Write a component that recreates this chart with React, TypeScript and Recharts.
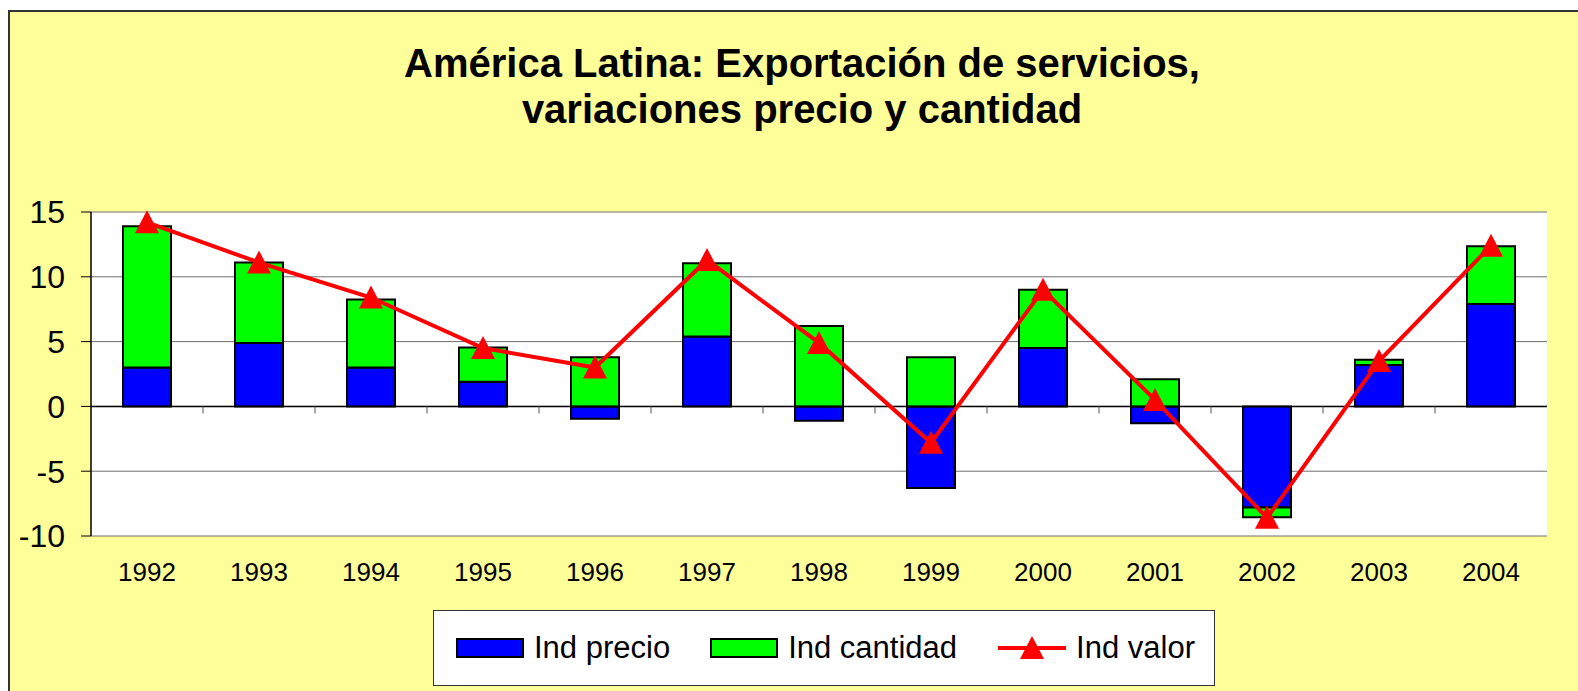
import { ComposedChart, Bar, Line, XAxis, YAxis, CartesianGrid, ReferenceLine } from "recharts";

// #region Data
const years = ["1992", "1993", "1994", "1995", "1996", "1997", "1998", "1999", "2000", "2001", "2002", "2003", "2004"];
const indPrecio = [3.0, 4.9, 3.0, 1.9, -0.95, 5.4, -1.1, -6.3, 4.5, -1.3, -7.8, 3.2, 7.9];
const indCantidad = [10.9, 6.2, 5.25, 2.65, 3.8, 5.65, 6.2, 3.8, 4.5, 2.1, -0.75, 0.4, 4.45];
const indValor = [14.2, 11.1, 8.4, 4.5, 3.0, 11.3, 4.9, -2.8, 9.0, 0.5, -8.6, 3.5, 12.4];
const yTicks = [-10, -5, 0, 5, 10, 15];
const seriesNames = ["Ind precio", "Ind cantidad", "Ind valor"];
// #endregion

const data = years.map((year, i) => ({
	year,
	precio: indPrecio[i],
	cantidad: indCantidad[i],
	valor: indValor[i],
}));

const FONT = '"Liberation Sans", Arial, sans-serif';

const Triangle = (props: any) => {
	const { cx, cy } = props;
	if (cx == null || cy == null) return null;
	return <path d={`M${cx},${cy - 12} L${cx + 12},${cy + 11} L${cx - 12},${cy + 11} Z`} fill="#ff0000" />;
};

// zero line with small tick marks between categories
const ZeroLine = (props: any) => {
	const { x1, x2, y1 } = props;
	const step = (x2 - x1) / years.length;
	return (
		<g>
			<line x1={x1} x2={x2} y1={y1} y2={y1} stroke="#000" strokeWidth={1.5} />
			{years.slice(1).map((y, i) => (
				<line key={y} x1={x1 + step * (i + 1)} x2={x1 + step * (i + 1)} y1={y1} y2={y1 + 7} stroke="#555" strokeWidth={1} />
			))}
		</g>
	);
};

const Swatch = ({ color }: { color: string }) => (
	<div style={{ width: 68, height: 20, background: color, border: "2px solid #000", boxSizing: "border-box" }} />
);

export default function App() {
	return (
		<div style={{ position: "fixed", left: 0, top: 0, width: 1578, height: 691, overflow: "hidden", background: "#fff", fontFamily: FONT }}>
			<div
				style={{
					position: "absolute",
					left: 8,
					top: 10,
					width: 1600,
					height: 700,
					background: "#FFFF99",
					borderLeft: "2px solid #333",
					borderTop: "2px solid #333",
				}}
			/>
			<div
				style={{
					position: "absolute",
					left: 0,
					top: 41,
					width: 1604,
					textAlign: "center",
					fontSize: 40,
					fontWeight: "bold",
					lineHeight: "45.5px",
					color: "#000",
				}}
			>
				América Latina: Exportación de servicios,
				<br />
				variaciones precio y cantidad
			</div>
			<div style={{ position: "absolute", left: 0, top: 0 }}>
				<ComposedChart
					width={1578}
					height={691}
					data={data}
					stackOffset="sign"
					margin={{ top: 212, right: 31, left: 0, bottom: 115 }}
				>
					<CartesianGrid horizontal vertical={false} stroke="#6e6e6e" fill="#fff" fillOpacity={1} />
					<XAxis
						dataKey="year"
						axisLine={false}
						tickLine={false}
						tickSize={0}
						tickMargin={27}
						height={40}
						interval={0}
						tick={{ fill: "#000", fontSize: 26, fontFamily: FONT }}
					/>
					<YAxis
						width={91}
						domain={[-10, 15]}
						ticks={yTicks}
						interval={0}
						tickSize={10}
						tickMargin={16}
						axisLine={{ stroke: "#000", strokeWidth: 1.5 }}
						tickLine={{ stroke: "#000" }}
						tick={{ fill: "#000", fontSize: 32, fontFamily: FONT }}
					/>
					<YAxis
						yAxisId="right"
						orientation="right"
						width={0}
						tick={false}
						tickLine={false}
						axisLine={{ stroke: "#666", strokeWidth: 2 }}
					/>
					<ReferenceLine y={0} shape={ZeroLine} />
					<Bar dataKey="precio" name={seriesNames[0]} stackId="a" fill="#0000ff" stroke="#000" strokeWidth={2} barSize={48} isAnimationActive={false} />
					<Bar dataKey="cantidad" name={seriesNames[1]} stackId="a" fill="#00ff00" stroke="#000" strokeWidth={2} barSize={48} isAnimationActive={false} />
					<Line
						dataKey="valor"
						name={seriesNames[2]}
						stroke="#ff0000"
						strokeWidth={4}
						dot={<Triangle />}
						activeDot={false}
						isAnimationActive={false}
					/>
				</ComposedChart>
			</div>
			<div
				style={{
					position: "absolute",
					left: 433,
					top: 610,
					width: 782,
					height: 76,
					background: "#fff",
					border: "1px solid #333",
					boxSizing: "border-box",
					display: "flex",
					alignItems: "center",
					fontSize: 31,
					color: "#000",
				}}
			>
				<div style={{ display: "flex", alignItems: "center", marginLeft: 22 }}>
					<Swatch color="#0000ff" />
					<span style={{ marginLeft: 10 }}>{seriesNames[0]}</span>
				</div>
				<div style={{ display: "flex", alignItems: "center", marginLeft: 40 }}>
					<Swatch color="#00ff00" />
					<span style={{ marginLeft: 10 }}>{seriesNames[1]}</span>
				</div>
				<div style={{ display: "flex", alignItems: "center", marginLeft: 39 }}>
					<svg width={72} height={26}>
						<line x1={2} x2={70} y1={13} y2={13} stroke="#ff0000" strokeWidth={4} />
						<path d="M36,1 L48,24 L24,24 Z" fill="#ff0000" />
					</svg>
					<span style={{ marginLeft: 8 }}>{seriesNames[2]}</span>
				</div>
			</div>
		</div>
	);
}
